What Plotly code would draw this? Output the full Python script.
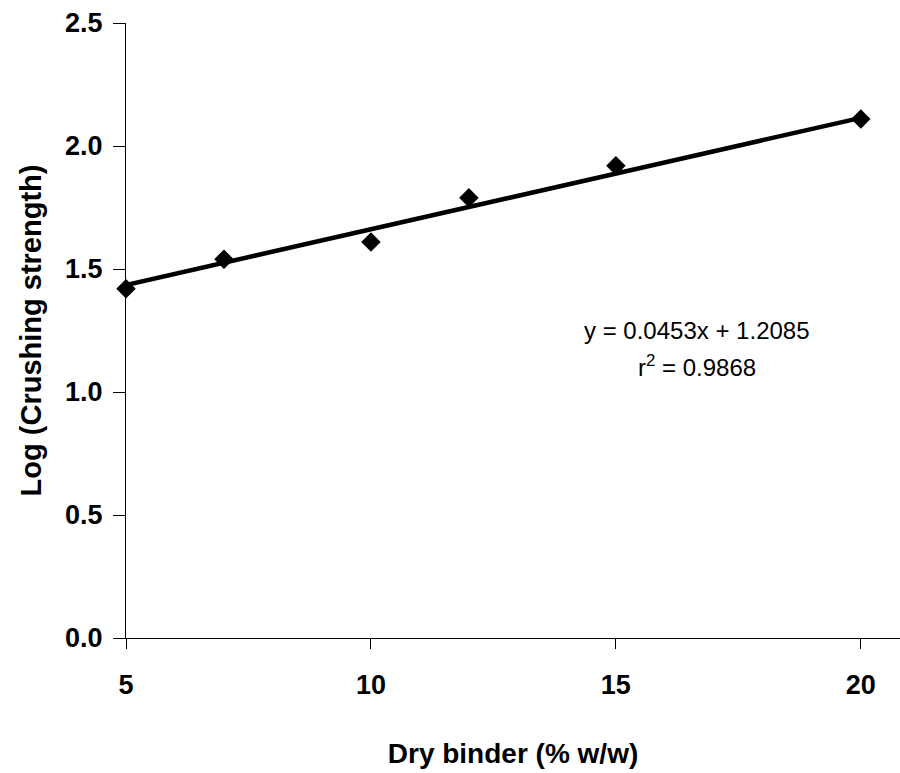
import plotly.graph_objects as go

binder = [5, 7, 10, 12, 15, 20]
log_strength = [1.42, 1.54, 1.61, 1.79, 1.92, 2.11]
slope = 0.0453
intercept = 1.2085
r2 = 0.9868
fit_x = [5, 20]
fit_y = [slope * v + intercept for v in fit_x]

x_ticks = [5, 10, 15, 20]
y_ticks = [0.0, 0.5, 1.0, 1.5, 2.0, 2.5]

fig = go.Figure()
fig.add_trace(go.Scatter(x=fit_x, y=fit_y, mode="lines",
                         line=dict(color="black", width=4.5), showlegend=False))
fig.add_trace(go.Scatter(x=binder, y=log_strength, mode="markers",
                         marker=dict(symbol="diamond", size=15, color="black"),
                         showlegend=False, cliponaxis=False))

font_family = "Liberation Sans, Arial, sans-serif"
fig.update_layout(
    width=900, height=773,
    margin=dict(l=126, r=0, t=23, b=135),
    plot_bgcolor="white", paper_bgcolor="white",
    font=dict(family=font_family, color="black"),
    xaxis=dict(range=[5, 20.8], tickvals=x_ticks, ticktext=[str(v) for v in x_ticks],
               ticks="outside", ticklen=10, tickcolor="black", tickwidth=1,
               showline=True, linecolor="black", linewidth=1.2,
               showgrid=False, zeroline=False, ticklabelstandoff=12,
               tickfont=dict(size=27, family=font_family, weight="bold"),
               title=dict(text="<b>Dry binder (% w/w)</b>", font=dict(size=28), standoff=44)),
    yaxis=dict(range=[0, 2.5], tickvals=y_ticks, ticktext=[f"{v:.1f}" for v in y_ticks],
               ticks="outside", ticklen=12, tickcolor="black", tickwidth=1,
               showline=True, linecolor="black", linewidth=1.2,
               showgrid=False, zeroline=False, ticklabelstandoff=5,
               tickfont=dict(size=27, family=font_family, weight="bold"),
               title=dict(text="<b>Log (Crushing strength)</b>", font=dict(size=29), standoff=14)),
)

plot_w = 900 - 126
plot_h = 773 - 23 - 135

def px_to_paper(px, py):
    return (px - 126) / plot_w, 1 - (py - 23) / plot_h

ax, ay = px_to_paper(697, 330)
fig.add_annotation(x=ax, y=ay, xref="paper", yref="paper", showarrow=False,
                   xanchor="center", yanchor="middle",
                   text=f"y = {slope}x + {intercept}", font=dict(size=24))
bx, by = px_to_paper(697, 366)
fig.add_annotation(x=bx, y=by, xref="paper", yref="paper", showarrow=False,
                   xanchor="center", yanchor="middle",
                   text=f"r<sup>2</sup> = {r2}", font=dict(size=24))

fig.write_html("out.html")
